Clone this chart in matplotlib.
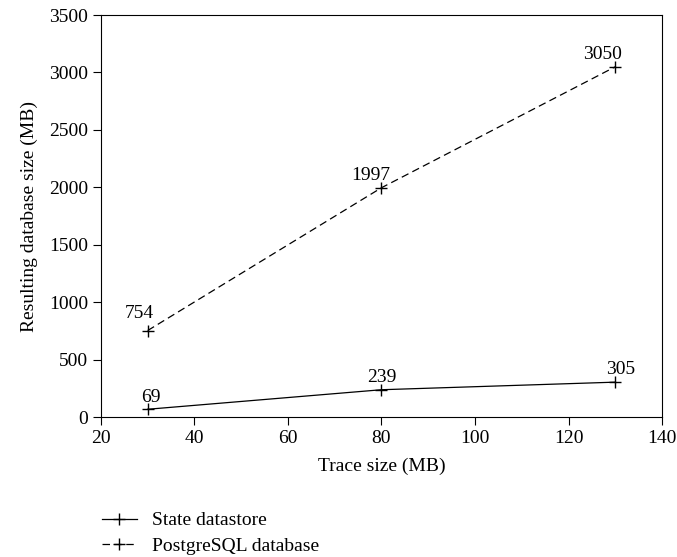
import matplotlib
matplotlib.use("Agg")
import matplotlib.pyplot as plt

plt.rcParams['font.family'] = ['Liberation Serif', 'DejaVu Serif']

trace_mb = [30, 80, 130]
state_store = [69, 239, 305]
postgres = [754, 1997, 3050]

fig = plt.figure(figsize=(6.77, 5.57), dpi=100)
ax = fig.add_axes([0.149, 0.251, 0.829, 0.722])

l1, = ax.plot(trace_mb, state_store, color='black', linestyle='-', linewidth=0.9,
              marker='+', markersize=9, markeredgewidth=1)
l2, = ax.plot(trace_mb, postgres, color='black', linestyle=(0, (6, 3.5)), linewidth=0.9,
              marker='+', markersize=9, markeredgewidth=1)

# labels near points
offs1 = [(2, 2), (0, 3), (4, 3)]
offs2 = [(-6, 6), (-8, 3), (-9, 3)]
for x, y, o in zip(trace_mb, state_store, offs1):
    ax.annotate(str(y), (x, y), xytext=o, textcoords='offset points',
                ha='center', va='bottom', fontsize=14)
for x, y, o in zip(trace_mb, postgres, offs2):
    ax.annotate(str(y), (x, y), xytext=o, textcoords='offset points',
                ha='center', va='bottom', fontsize=14)

ax.set_xlim(20, 140)
ax.set_ylim(0, 3500)
ax.set_xticks(range(20, 141, 20))
ax.set_yticks(range(0, 3501, 500))
ax.tick_params(direction='out', length=5.5, labelsize=14, top=False, right=False)
ax.set_xlabel('Trace size (MB)', fontsize=14, labelpad=8)
ax.set_ylabel('Resulting database size (MB)', fontsize=14, labelpad=8)

fig.legend([l1, l2], ['State datastore', 'PostgreSQL database'],
           loc='upper left', bbox_to_anchor=(0.139, 0.095), frameon=False,
           fontsize=14, handlelength=1.8, handletextpad=0.8,
           labelspacing=0.4, borderaxespad=0)

fig.savefig('out.png', dpi=100)
